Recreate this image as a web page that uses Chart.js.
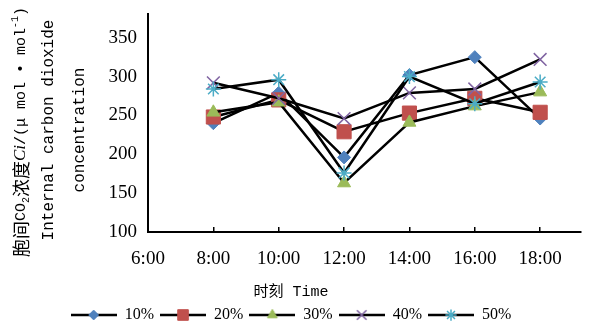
<!DOCTYPE html>
<html>
<head>
<meta charset="utf-8">
<script src="https://cdn.jsdelivr.net/npm/chart.js@4/dist/chart.umd.min.js"></script>
<style>
  html, body { margin: 0; padding: 0; background: #fff; }
  #wrap { width: 592px; height: 335px; }
</style>
</head>
<body>
<div id="wrap"><canvas id="ciChart"></canvas></div>
<script>
// heures de mesure et graduations
const TIMES = [8, 10, 12, 14, 16, 18];
const X_TICKS = [6, 8, 10, 12, 14, 16, 18];
const Y_TICKS = [100, 150, 200, 250, 300, 350];
const SERIES_NAMES = ['10%', '20%', '30%', '40%', '50%'];

// Ci (µmol·mol-1)
const CI_10 = [240, 279, 196, 302, 325, 246];
const CI_20 = [248, 270, 229, 253, 272, 254];
const CI_30 = [254, 267, 163, 241, 262, 280];
const CI_40 = [292, 272, 246, 279, 284, 322];
const CI_50 = [284, 296, 176, 300, 265, 293];
const SERIES = [CI_10, CI_20, CI_30, CI_40, CI_50];

// titres
const X_TITLE = '时刻 Time';
// ligne 1 en morceaux : [texte, genre] (cjk, normal, italique, indice, exposant)
const Y_TITLE_1 = [['胞间', 'cjk'], ['CO', 'n'], ['2', 'sub'], ['浓度', 'cjk'], ['Ci', 'i'],
                   ['/(μ mol • mol', 'n'], ['-1', 'sup'], [')', 'n']];
const Y_TITLE_2 = 'Internal carbon dioxide';
const Y_TITLE_3 = 'concentration';

// marqueurs façon Excel
const MARKERS = [
  { style: 'rectRot',  color: '#4f81bd', r: 6.5, bw: 1 },
  { style: 'rect',     color: '#c0504d', r: 10,  bw: 1 },
  { style: 'triangle', color: '#9bbb59', r: 7.5, bw: 1 },
  { style: 'crossRot', color: '#8064a2', r: 9,   bw: 1.5 },
  { style: 'star',     color: '#4bacc6', r: 7.5, bw: 1.5 }
];

const SERIF = "'Liberation Serif', 'Noto Sans CJK SC', serif";
const MONO = "'Liberation Mono', 'Noto Sans CJK SC', monospace";

// petite icône ligne + marqueur pour la légende
function legendIcon(m) {
  const c = document.createElement('canvas');
  c.width = 46; c.height = 16;
  const ctx = c.getContext('2d');
  ctx.strokeStyle = '#000'; ctx.lineWidth = 2.5;
  ctx.beginPath(); ctx.moveTo(0, 8); ctx.lineTo(46, 8); ctx.stroke();
  ctx.fillStyle = m.color; ctx.strokeStyle = m.color; ctx.lineWidth = m.bw;
  Chart.helpers.drawPoint(ctx, { pointStyle: m.style, radius: m.r * 0.75, rotation: 0, borderWidth: m.bw }, 23, 8);
  return c;
}
const ICONS = MARKERS.map(legendIcon);

// titre de l'axe Y dessiné à la main (indice, exposant, italique)
const SEG_FONT = {
  cjk: "18px 'Noto Sans CJK SC'",
  n: "15px 'Liberation Mono', monospace",
  big: "16px 'Liberation Mono', monospace",
  i: "italic 17px 'Liberation Serif', serif",
  sub: "10px 'Liberation Mono', monospace",
  sup: "10px 'Liberation Mono', monospace"
};
const SEG_SHIFT = { cjk: 0, n: 0, big: 0, i: 0, sub: 5, sup: -6 };

function drawRotated(ctx, x, cy, segs) {
  ctx.save();
  ctx.translate(x, cy);
  ctx.rotate(-Math.PI / 2);
  ctx.fillStyle = '#000';
  ctx.textBaseline = 'middle';
  ctx.textAlign = 'left';
  let total = 0;
  segs.forEach(([t, k]) => { ctx.font = SEG_FONT[k]; total += ctx.measureText(t).width; });
  let pos = -total / 2;
  segs.forEach(([t, k]) => {
    ctx.font = SEG_FONT[k];
    ctx.fillText(t, pos, SEG_SHIFT[k]);
    pos += ctx.measureText(t).width;
  });
  ctx.restore();
}

const yTitlePlugin = {
  id: 'yTitle',
  afterDraw(chart) {
    const ctx = chart.ctx;
    drawRotated(ctx, 21, 132, Y_TITLE_1);
    drawRotated(ctx, 49, 130, [[Y_TITLE_2, 'big']]);
    drawRotated(ctx, 80, 130, [[Y_TITLE_3, 'big']]);
  }
};

const datasets = SERIES.map((vals, i) => ({
  label: SERIES_NAMES[i],
  data: TIMES.map((t, k) => ({ x: t, y: vals[k] })),
  borderColor: '#000', borderWidth: 2.5, tension: 0,
  pointStyle: MARKERS[i].style, pointRadius: MARKERS[i].r,
  pointBackgroundColor: MARKERS[i].color, pointBorderColor: MARKERS[i].color,
  pointBorderWidth: MARKERS[i].bw,
  order: SERIES.length - i
}));

new Chart(document.getElementById('ciChart'), {
  type: 'line',
  data: { datasets },
  plugins: [yTitlePlugin],
  options: {
    responsive: true, maintainAspectRatio: false, animation: false,
    layout: { padding: { top: 10, right: 10, bottom: 2, left: 0 } },
    plugins: {
      tooltip: { enabled: false },
      legend: {
        position: 'bottom',
        labels: {
          usePointStyle: true, pointStyleWidth: 46, padding: 6, color: '#000',
          font: { family: SERIF, size: 16 },
          generateLabels: chart => chart.data.datasets.map((ds, i) => ({
            text: ds.label, pointStyle: ICONS[i], datasetIndex: i,
            fillStyle: '#000', strokeStyle: '#000', lineWidth: 0, hidden: false, fontColor: '#000'
          }))
        }
      },
      title: {
        display: true, position: 'bottom', text: X_TITLE, weight: 500, color: '#000',
        font: { family: MONO, size: 15, weight: 'normal' },
        padding: { top: 13, bottom: 0 }
      }
    },
    scales: {
      x: {
        type: 'linear', min: 6, max: 19.25,
        afterBuildTicks: s => { s.ticks = X_TICKS.map(v => ({ value: v })); },
        afterFit: s => { s.height = 38; },
        border: { color: '#000', width: 2 },
        grid: { drawOnChartArea: false, tickLength: -5, color: '#000', lineWidth: 1.5 },
        ticks: {
          color: '#000', padding: 21, maxRotation: 0, autoSkip: false,
          font: { family: SERIF, size: 19 },
          callback: v => v + ':00'
        }
      },
      y: {
        min: 100, max: 380,
        afterBuildTicks: s => { s.ticks = Y_TICKS.map(v => ({ value: v })); },
        afterFit: s => { s.width = 148; },
        border: { color: '#000', width: 2 },
        grid: { display: false },
        ticks: { color: '#000', padding: 3, font: { family: SERIF, size: 19 } }
      }
    }
  }
});
</script>
</body>
</html>
